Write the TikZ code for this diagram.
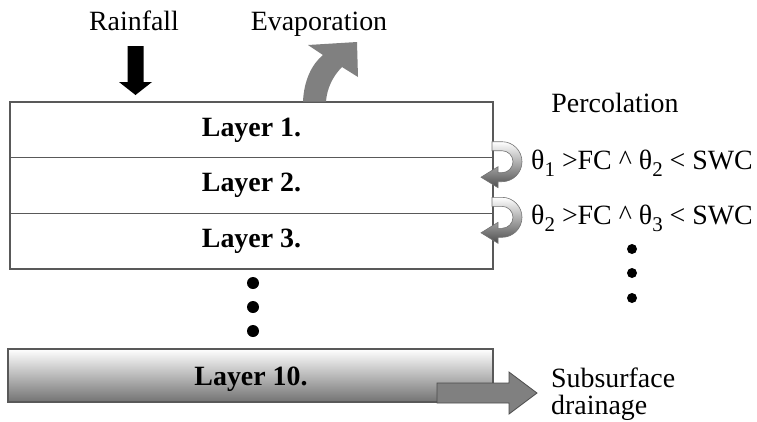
\documentclass[tikz,border=0pt]{standalone}
\usepackage{fontspec}
\setmainfont{Liberation Serif}
\newcommand\lowidx[1]{\raisebox{-7bp}{\fontsize{21}{21}\selectfont #1}}
\begin{document}
\begin{tikzpicture}[x=1bp,y=-1bp,
  every node/.style={font=\fontsize{28}{32}\selectfont, inner sep=0pt},
  layerbox/.style={draw=black!65, line width=1.2bp, minimum width=483bp,
    minimum height=55.67bp, font=\fontsize{28}{32}\selectfont\bfseries},
  bigdot/.style={circle, fill=black, inner sep=0pt, minimum size=12bp},
  smalldot/.style={circle, fill=black, inner sep=0pt, minimum size=10bp},
  flowarrow/.style={fill=black!50, draw=black!70, line width=0.8bp},
  percshade/.style={top color=white, bottom color=black!70, draw=black!55, line width=0.6bp}]
\useasboundingbox (0,0) rectangle (757,421);

% soil column
\node[layerbox] (l1) at (251.5,129.8) {Layer 1.};
\node[layerbox] (l2) at (251.5,185.5) {Layer 2.};
\node[layerbox] (l3) at (251.5,241.2) {Layer 3.};

% remaining layers
\node[bigdot] (d1) at (253,283) {};
\node[bigdot] (d2) at (253,307) {};
\node[bigdot] (d3) at (253,331) {};

\node[layerbox, minimum width=485bp, minimum height=53bp,
  top color=white, bottom color=black!55] (l10) at (250.5,375.5) {};
\node[anchor=base, font=\fontsize{28}{32}\selectfont\bfseries] (l10t) at (251,385) {Layer 10.};

% rainfall
\node[anchor=base] (rain) at (134,30) {Rainfall};
\fill[black] (127.5,46) -- (143.5,46) -- (143.5,82) -- (152,82) -- (135.5,95)
  -- (119,82) -- (127.5,82) -- cycle;

% evaporation
\node[anchor=base] (evap) at (319,30) {Evaporation};
\fill[black!50] (303,101.5) .. controls (304,80) and (312,64) .. (323,55)
  -- (308,45) -- (357,42) -- (358,77) -- (342,67)
  .. controls (333,76) and (327,88) .. (326,101.5) -- cycle;

% percolation between layers
\node[anchor=base] (perc) at (615,112) {Percolation};
\foreach \yy in {157.7,213.3} {
  \begin{scope}[shift={(0,\yy)}]
    \path[percshade] (492,-16) -- (502,-16)
      .. controls (513,-16) and (522,-7) .. (522,4)
      .. controls (522,15) and (513,24) .. (502,24)
      -- (498,24) -- (498,30) -- (481,19.5) -- (498,9) -- (498,15) -- (502,15)
      .. controls (508,15) and (513,10) .. (513,4)
      .. controls (513,-2) and (508,-7) .. (502,-7)
      -- (492,-7) -- cycle;
  \end{scope}
}
\node[anchor=base west] (c1) at (531,169)
  {θ\lowidx{1} >FC \textasciicircum{} θ\lowidx{2} < SWC};
\node[anchor=base west] (c2) at (531,224)
  {θ\lowidx{2} >FC \textasciicircum{} θ\lowidx{3} < SWC};
\node[smalldot] (e1) at (632,249) {};
\node[smalldot] (e2) at (632,273) {};
\node[smalldot] (e3) at (632,298) {};

% subsurface drainage
\draw[flowarrow] (437,383) -- (509,383) -- (509,372) -- (537,393) -- (509,414)
  -- (509,403) -- (437,403) -- cycle;
\node[anchor=base west] (s1) at (551,387) {Subsurface};
\node[anchor=base west] (s2) at (551,414) {drainage};
\end{tikzpicture}
\end{document}
